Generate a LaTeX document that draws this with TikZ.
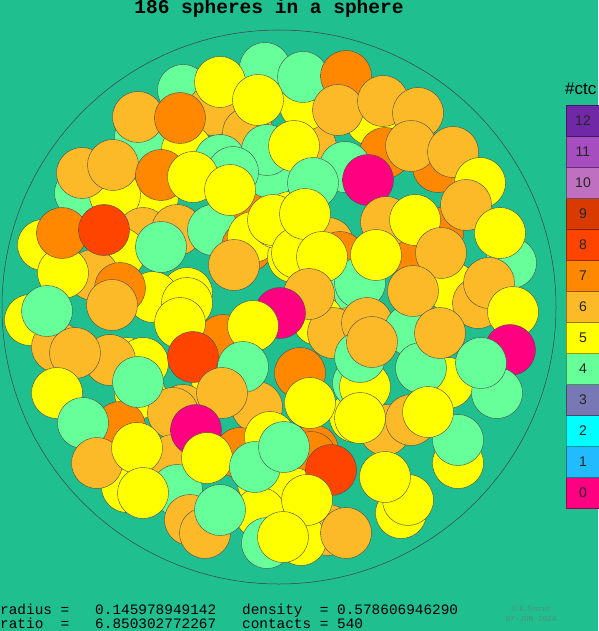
\documentclass[tikz,border=0pt]{standalone}
\usepackage{fontspec}
\setmainfont{Liberation Sans}
\setmonofont{Liberation Mono}
\newfontfamily\copyfont{Liberation Serif}
\usepackage{xcolor}
\definecolor{bgTeal}{HTML}{20BF90}
\definecolor{copyGray}{HTML}{4F8F78}
\definecolor{ctc0}{HTML}{FF0080}
\definecolor{ctc1}{HTML}{22BBFF}
\definecolor{ctc2}{HTML}{00FFFF}
\definecolor{ctc3}{HTML}{7878B4}
\definecolor{ctc4}{HTML}{66FF99}
\definecolor{ctc5}{HTML}{FFFF00}
\definecolor{ctc6}{HTML}{FCBA28}
\definecolor{ctc7}{HTML}{FF8800}
\definecolor{ctc8}{HTML}{FF4400}
\definecolor{ctc9}{HTML}{D83A00}
\definecolor{ctc10}{HTML}{C070C0}
\definecolor{ctc11}{HTML}{A64DBF}
\definecolor{ctc12}{HTML}{7028A6}
\colorlet{sphIn}{ctc5}
\colorlet{sphOut}{ctc5}
\pgfdeclareradialshading[sphIn,sphOut]{sphere}{\pgfpoint{0bp}{0bp}}{color(0bp)=(sphIn); color(28bp)=(sphIn); color(50bp)=(sphOut)}

\begin{document}
\begin{tikzpicture}[
    x=1pt, y=-1pt,
    sph/.style={draw=black!70, line width=0.4pt, shading=sphere},
    key/.style={rectangle, draw=#1!60!black, fill=#1, minimum width=34pt, minimum height=31pt, inner sep=0pt, font=\fontsize{14}{14}\selectfont, text=black!85},
    num/.style={font=\ttfamily\fontsize{14.4}{14.4}\selectfont, anchor=base west, inner sep=0pt},
]
    \fill[bgTeal] (0,0) rectangle (598,631);
    \useasboundingbox (0,0) rectangle (598,631);

    \node[font=\ttfamily\bfseries\fontsize{19.5}{19.5}\selectfont, anchor=base, inner sep=0pt] (title) at (269,14) {186 spheres in a sphere};

    % container
    \draw[black!75, line width=0.5pt] (279,307) circle (277pt);

    % spheres further back
    \foreach \x/\y/\col in {183/90/4, 213/110/6, 140/137/4, 187/150/5, 248/133/6, 371/120/5, 311/147/6, 385/153/7, 438/167/7, 220/160/4,
        80/193/4, 153/197/5, 115/195/5, 253/207/7, 43/245/5, 143/233/6, 177/230/6, 213/230/4, 120/253/5, 247/247/7,
        253/237/5, 438/233/7, 511/263/4, 328/243/6, 340/257/7, 293/257/5, 277/223/5, 270/173/4, 305/105/5, 350/287/4,
        360/283/4, 451/287/5, 93/275/6, 30/320/5, 57/347/6, 127/363/5, 143/363/5, 110/360/6, 140/393/5, 217/380/5,
        230/347/7, 223/340/7, 183/410/6, 120/427/7, 173/413/6, 257/407/6, 240/453/7, 313/450/7, 311/457/7, 173/460/6,
        177/490/4, 127/487/5, 190/520/6, 401/513/5, 328/530/6, 301/540/5, 448/383/5, 311/307/6, 318/320/5, 348/333/6,
        333/333/6, 367/323/6, 478/303/6, 385/430/6, 411/420/6, 355/417/5, 358/383/4, 365/387/5, 360/357/4, 410/330/4,
        407/247/7, 187/293/5, 153/297/5, 187/303/5, 290/217/5, 273/220/5, 297/253/5, 270/437/5, 263/483/5, 293/493/5,
        260/513/5}
    {
        \colorlet{sphIn}{ctc\col}\colorlet{sphOut}{ctc\col!82!black}
        \shade[sph] (\x,\y) circle (25.5pt);
    }

    % spheres in front
    \foreach \x/\y/\col in {265/68/4, 303/77/4, 346/76/7, 220/82/5, 258/100/5, 138/117/6, 180/118/7, 338/110/6, 383/101/6, 418/113/6,
        267/150/4, 294/146/5, 233/172/4, 345/167/4, 313/183/4, 411/146/6, 453/152/6, 480/183/5, 368/180/0, 82/173/6,
        113/165/6, 161/175/7, 193/177/5, 230/190/5, 305/214/5, 466/205/6, 386/222/6, 415/220/5, 500/233/5, 63/273/5,
        62/233/7, 104/230/8, 161/247/4, 234/265/6, 322/257/5, 376/255/5, 441/253/6, 489/283/6, 513/312/5, 47/311/4,
        120/288/7, 112/305/6, 180/323/5, 309/294/6, 280/313/0, 253/326/5, 413/291/6, 75/353/6, 193/357/8, 243/367/4,
        300/373/7, 372/342/6, 421/368/4, 440/333/6, 510/350/0, 497/393/4, 481/363/4, 57/393/5, 138/382/4, 222/393/6,
        310/403/5, 360/418/5, 458/463/5, 458/440/4, 428/412/5, 83/423/4, 196/430/0, 97/463/6, 137/448/5, 207/458/5,
        255/467/4, 284/447/4, 143/493/5, 331/470/8, 408/500/5, 385/477/5, 307/500/5, 205/533/6, 220/510/4, 267/543/4,
        283/537/5, 346/533/6}
    {
        \colorlet{sphIn}{ctc\col}\colorlet{sphOut}{ctc\col!82!black}
        \shade[sph] (\x,\y) circle (25.5pt);
    }

    % colour key
    \node[anchor=base west, inner sep=0pt, font=\fontsize{17}{17}\selectfont] (ctcLabel) at (565,95) {\#ctc};
    \foreach \n in {0,...,12}
        \node[key=ctc\n] (key\n) at (583,{105+(12-\n)*31+15.5}) {\n};

    % results
    \node[num] (radius) at (0,614) {radius~=~~~0.145978949142~~~density~~=~0.578606946290};
    \node[num] (ratio) at (0,628) {ratio~~=~~~6.850302772267~~~contacts~=~540};
    \node[font=\copyfont\fontsize{8}{8}\selectfont, text=copyGray, anchor=base, inner sep=0pt] (copy) at (531,611) {\textcopyright~E.\,S{\fontsize{6}{6}\selectfont PECHT}};
    \node[font=\ttfamily\fontsize{7.7}{7.7}\selectfont, text=copyGray, anchor=base, inner sep=0pt] (date) at (531,621) {07-JUN-2024};
\end{tikzpicture}
\end{document}
